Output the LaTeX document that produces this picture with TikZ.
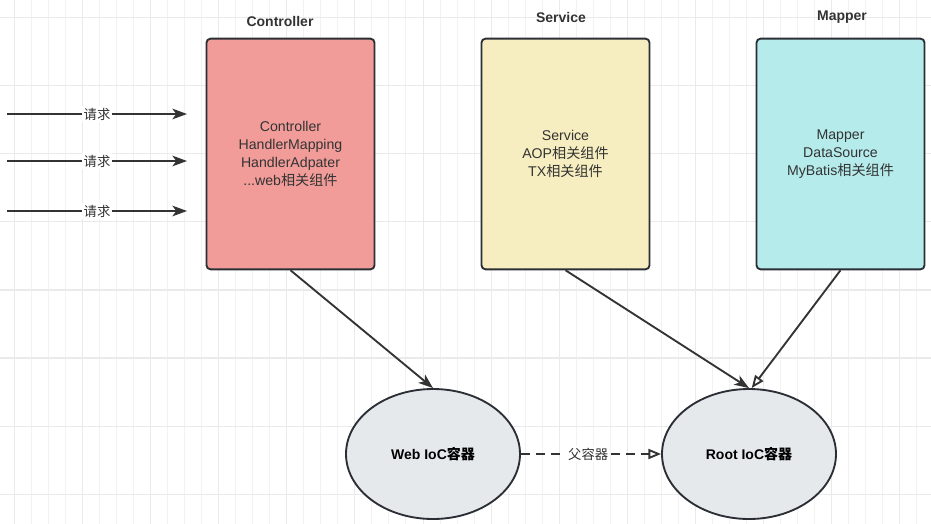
\documentclass[tikz,border=0pt]{standalone}
\usepackage{fontspec}
\setmainfont{Liberation Sans}
\newfontfamily\cjk{Noto Sans CJK SC}
\usetikzlibrary{arrows.meta,shapes.geometric}
\definecolor{ink}{HTML}{333333}
\definecolor{edge}{HTML}{2B2F35}
\definecolor{gridminor}{HTML}{F2F2F2}
\definecolor{gridmajor}{HTML}{EAEAEA}
\definecolor{redfill}{HTML}{F19C99}
\definecolor{yellowfill}{HTML}{F6EDC0}
\definecolor{cyanfill}{HTML}{B5EBEB}
\definecolor{greyfill}{HTML}{E6E9EC}
\tikzset{
  layerbox/.style={draw=edge, line width=1.4pt, rounded corners=3pt,
    minimum width=126pt, minimum height=173pt, inner sep=0pt,
    align=center, text=ink, font=\fontsize{10.6pt}{13.3pt}\selectfont},
  heading/.style={font=\bfseries\fontsize{10.5pt}{12pt}\selectfont, text=ink, inner sep=0pt},
  container/.style={ellipse, draw=edge, line width=1.4pt, fill=greyfill,
    minimum width=130.5pt, minimum height=97.5pt, inner sep=0pt,
    font=\bfseries\fontsize{10.5pt}{12pt}\selectfont, text=black},
  solidarrow/.style={draw=ink, line width=1.4pt, -{Stealth[length=11pt,width=8pt,inset=3pt]}},
  openarrow/.style={draw=ink, line width=1.4pt, -{Triangle[open,length=9.5pt,width=7.5pt]}},
  edgelabel/.style={fill=white, text=ink, inner sep=1.5pt, font=\fontsize{10pt}{12pt}\selectfont},
}
\begin{document}
\begin{tikzpicture}[x=0.75pt,y=-0.75pt]
\useasboundingbox (0,0) rectangle (931,524);
\fill[white] (0,0) rectangle (931,524);
% grid
\foreach \i in {0,...,53} {
  \draw[gridminor, line width=0.75pt] ({14.3+17.03*\i},0) -- ({14.3+17.03*\i},524);
}
\foreach \i in {0,...,13} {
  \draw[gridmajor, line width=0.75pt] ({14.3+68.12*\i},0) -- ({14.3+68.12*\i},524);
}
\foreach \j in {0,...,7} {
  \draw[gridmajor, line width=0.9pt] (0,{17.5+68.1*\j}) -- (931,{17.5+68.1*\j});
}

% headings
\node[heading] (hctrl) at (280,21) {Controller};
\node[heading] (hserv) at (561,17) {Service};
\node[heading] (hmap) at (842,17) {Mapper};

% layer boxes
\node[layerbox, fill=redfill] (ctrl) at (290.5,154)
  {Controller\\HandlerMapping\\HandlerAdpater\\...web{\cjk 相关组件}};
\node[layerbox, fill=yellowfill] (serv) at (565.5,154)
  {Service\\AOP{\cjk 相关组件}\\TX{\cjk 相关组件}};
\node[layerbox, fill=cyanfill] (map) at (840.5,154)
  {Mapper\\DataSource\\MyBatis{\cjk 相关组件}};

% containers
\node[container] (web) at (433,454) {Web IoC{\cjk 容器}};
\node[container] (root) at (749,454) {Root IoC{\cjk 容器}};

% requests
\foreach \y/\n in {114/a,161/b,211/c} {
  \coordinate (rs\n) at (7,\y);
  \coordinate (re\n) at (187,\y);
  \draw[solidarrow] (rs\n) -- (re\n) node[edgelabel, midway] {\cjk 请求};
}

% connectors
\draw[solidarrow] (ctrl.south) -- (web.north);
\draw[solidarrow] (serv.south) -- (root.north);
\draw[openarrow] (map.south) -- ([xshift=2pt]root.north);
\draw[openarrow, dash pattern=on 6.75pt off 4.5pt] (web.east) -- (root.west)
  node[edgelabel, pos=0.48] {\cjk 父容器};
\end{tikzpicture}
\end{document}
